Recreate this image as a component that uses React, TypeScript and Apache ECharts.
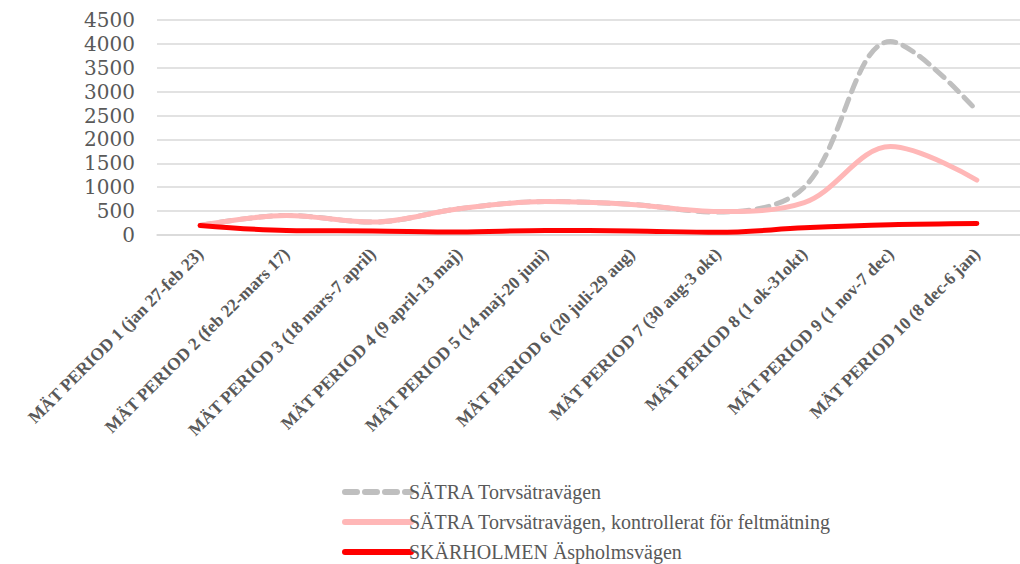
import React, { useEffect, useRef } from "react";
import * as echarts from "echarts";

const categories = [
  "MÄT PERIOD 1 (jan 27-feb 23)",
  "MÄT PERIOD 2 (feb 22-mars 17)",
  "MÄT PERIOD 3 (18 mars-7 april)",
  "MÄT PERIOD 4 (9 april-13 maj)",
  "MÄT PERIOD 5 (14 maj-20 juni)",
  "MÄT PERIOD 6 (20 juli-29 aug)",
  "MÄT PERIOD 7 (30 aug-3 okt)",
  "MÄT PERIOD 8 (1 ok-31okt)",
  "MÄT PERIOD 9 (1 nov-7 dec)",
  "MÄT PERIOD 10 (8 dec-6 jan)",
];

const satra = [200, 410, 270, 550, 700, 640, 480, 1000, 4050, 2600];
const satraKontrollerat = [200, 410, 270, 550, 700, 640, 490, 680, 1850, 1150];
const skarholmen = [200, 95, 85, 65, 95, 85, 55, 150, 215, 240];

const seriesNames = [
  "SÄTRA Torvsätravägen",
  "SÄTRA Torvsätravägen, kontrollerat för feltmätning",
  "SKÄRHOLMEN Äspholmsvägen",
];

const yTicks = [0, 4500, 500];

export default function App() {
  const ref = useRef<HTMLDivElement>(null);
  useEffect(() => {
    if (!ref.current) return;
    const chart = echarts.init(ref.current, null, { renderer: "svg" });
    const font = "'Liberation Serif', 'Times New Roman', serif";
    const font2 = "'DejaVu Serif', serif";
    chart.setOption({
      animation: false,
      backgroundColor: "#ffffff",
      grid: { left: 157, right: -1, top: 20, bottom: 329, containLabel: false },
      legend: {
        orient: "vertical",
        left: 337,
        top: 477,
        height: 90,
        itemWidth: 66,
        itemHeight: 8,
        itemGap: 10,
        itemStyle: { opacity: 0 },
        lineStyle: { width: 6 },
        textStyle: { fontFamily: font, fontSize: 20, color: "#595959", padding: [0, 0, 0, -7] },
        data: seriesNames,
      },
      xAxis: {
        type: "category",
        data: categories,
        boundaryGap: true,
        axisLine: { show: true, lineStyle: { color: "#d9d9d9", width: 1.5 } },
        axisTick: { show: false },
        axisLabel: {
          rotate: 45,
          interval: 0,
          fontFamily: font,
          fontWeight: "bold",
          fontSize: 17.5,
          color: "#595959",
          margin: 16,
        },
      },
      yAxis: {
        type: "value",
        min: yTicks[0],
        max: yTicks[1],
        interval: yTicks[2],
        axisLine: { show: false },
        axisTick: { show: false },
        splitLine: { lineStyle: { color: "#d9d9d9", width: 1.5 } },
        axisLabel: {
          fontFamily: font2,
          fontSize: 20,
          color: "#595959",
          margin: 22,
          showMinLabel: true,
          showMaxLabel: true,
          formatter: (v: number) => String(v),
        },
      },
      series: [
        {
          name: seriesNames[0],
          type: "line",
          data: satra,
          smooth: 0.35,
          symbol: "none",
          lineStyle: { color: "#bfbfbf", width: 5, type: [12, 8], cap: "round" },
          itemStyle: { color: "#bfbfbf" },
        },
        {
          name: seriesNames[1],
          type: "line",
          data: satraKontrollerat,
          smooth: 0.35,
          symbol: "none",
          lineStyle: { color: "#ffb7b7", width: 5, cap: "round" },
          itemStyle: { color: "#ffb7b7" },
        },
        {
          name: seriesNames[2],
          type: "line",
          data: skarholmen,
          smooth: 0.35,
          symbol: "none",
          lineStyle: { color: "#ff0000", width: 5, cap: "round" },
          itemStyle: { color: "#ff0000" },
        },
      ],
    });
    return () => chart.dispose();
  }, []);
  return (
    <div
      ref={ref}
      style={{ position: "absolute", left: 0, top: 0, width: 1020, height: 564 }}
    />
  );
}
